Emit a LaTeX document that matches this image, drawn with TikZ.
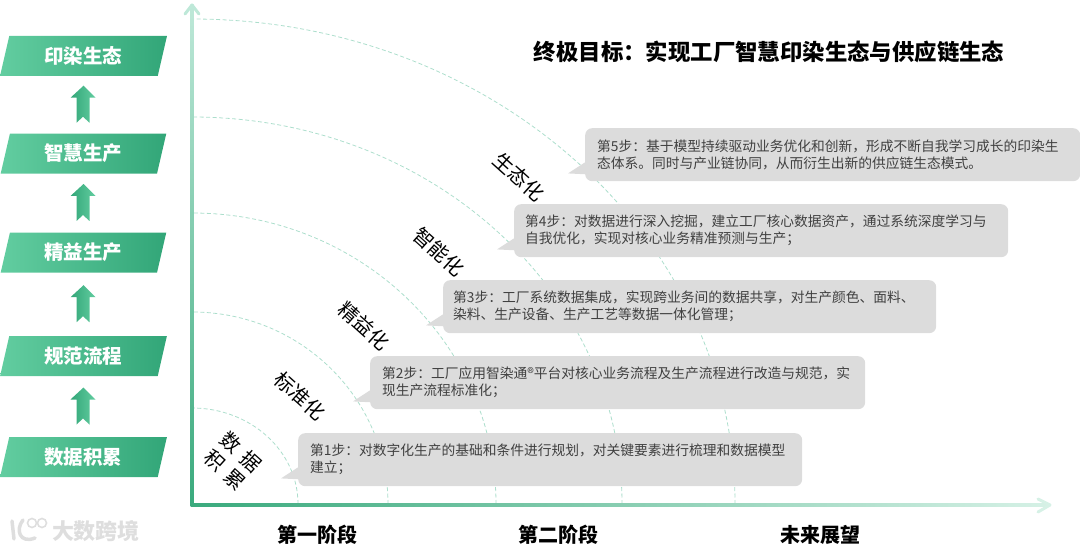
\documentclass[tikz,border=0pt]{standalone}
\usepackage{fontspec}
\setmainfont{Noto Sans CJK SC}
\usepackage{xcolor}
\usetikzlibrary{calc,shapes.geometric}
\definecolor{accent}{RGB}{58,170,125}
\definecolor{accentdark}{RGB}{50,166,120}
\definecolor{accentlight}{RGB}{98,205,160}
\definecolor{fadeup}{RGB}{190,232,216}
\definecolor{faderight}{RGB}{214,241,230}
\definecolor{ringcol}{RGB}{172,222,204}
\definecolor{bubblecol}{RGB}{220,220,220}
\definecolor{marktext}{RGB}{222,222,222}
\tikzset{
  ribbon/.style={trapezium,trapezium left angle=75.5,trapezium right angle=104.5,trapezium stretches=true,
    minimum width=167,minimum height=40,inner sep=0pt,left color=accentlight,right color=accentdark,
    text=white,font=\fontsize{19.5}{21}\selectfont\bfseries},
  bubble/.style={rectangle,rounded corners=7,fill=bubblecol,minimum height=53,inner sep=0pt,anchor=north west,
    align=left,text=black!75,font=\fontsize{13.75}{17}\selectfont},
  bubbletail/.style={fill=bubblecol},
  ring/.style={ringcol,line width=0.8,dashed,dash pattern=on 4 off 2.5},
  stagelabel/.style={rotate=-42,font=\fontsize{20}{24}\selectfont},
  phaselabel/.style={font=\fontsize{20}{22}\selectfont\bfseries},
  axishead/.style={line width=3,line cap=round,line join=round},
}
\newcommand{\fatarrow}[2]{%
  \path let \p1=($(#1.north)!.5!(#2.south)$) in coordinate (m) at (83.5,\y1);
  \shade[left color=accentdark,right color=accentlight]
    ($(m)+(0,-19)$)--++(12,12)--++(-6,0)--++(0,25)--++(-6.5,-6)--++(-6.5,6)--++(0,-25)--++(-6,0)--cycle;
}
\begin{document}
\begin{tikzpicture}[x=1pt,y=-1pt]
\useasboundingbox (0,0) rectangle (1080,551);
% rings
\coordinate (origin) at (192,504);
\foreach \rx/\ry in {106/96,196/192,304/291,430/387,543/485}{
  \draw[ring] (192+\rx,504) arc[start angle=0,end angle=-90,x radius=\rx,y radius=\ry];
}
% axes
\shade[bottom color=accent,top color=fadeup] (190.5,5) rectangle (193.5,505.5);
\shade[left color=accent,right color=faderight] (190.5,503.5) rectangle (1050,506.5);
\draw[axishead,fadeup] (185,14)--(192,5)--(199,14);
\draw[axishead,faderight] (1038,499)--(1050,505)--(1038,512);
% ribbons
\foreach \name/\ypos/\lab in {ribbonE/56/印染生态,ribbonD/153.5/智慧生产,ribbonC/252.5/精益生产,ribbonB/356/规范流程,ribbonA/457/数据积累}{
  \node[ribbon] (\name) at (83.5,\ypos) {\lab};
}
\foreach \a/\b in {ribbonA/ribbonB,ribbonB/ribbonC,ribbonC/ribbonD,ribbonD/ribbonE}{
  \fatarrow{\a}{\b}
}
% bubbles
\node[bubble,minimum width=495,text width=471] (stepE) at (585,128) {第5步：基于模型持续驱动业务优化和创新，形成不断自我学习成长的印染生\\态体系。同时与产业链协同，从而衍生出新的供应链生态模式。};
\node[bubble,minimum width=494,text width=472] (stepD) at (514,204) {第4步：对数据进行深入挖掘，建立工厂核心数据资产，通过系统深度学习与\\自我优化，实现对核心业务精准预测与生产；};
\node[bubble,minimum width=493,text width=473] (stepC) at (443,280) {第3步：工厂系统数据集成，实现跨业务间的数据共享，对生产颜色、面料、\\染料、生产设备、生产工艺等数据一体化管理；};
\node[bubble,minimum width=495,text width=471] (stepB) at (370,356) {第2步：工厂应用智染通®平台对核心业务流程及生产流程进行改造与规范，实\\现生产流程标准化；};
\node[bubble,minimum width=504,text width=480] (stepA) at (298,433) {第1步：对数字化生产的基础和条件进行规划，对关键要素进行梳理和数据模型\\建立；};
\foreach \s in {stepA,stepB,stepC,stepD,stepE}{
  \fill[bubbletail] ($(\s.south west)+(-17,-8)$)--($(\s.south west)+(3,-21)$)--($(\s.south west)+(3,-7)$)--cycle;
}
% stage labels
\node[stagelabel] (eco) at (519,177) {生态化};
\node[stagelabel] (smart) at (439,252) {智能化};
\node[stagelabel] (lean) at (364,326) {精益化};
\node[stagelabel] (norm) at (300,396) {标准化};
\node[stagelabel,align=center] (accum) at (233,461) {数\hspace{8pt}据\\积\hspace{8pt}累};
% title and phases
\node[font=\fontsize{22.4}{24}\selectfont\bfseries] (goal) at (769,52) {终极目标：实现工厂智慧印染生态与供应链生态};
\node[phaselabel] (phaseA) at (317,535) {第一阶段};
\node[phaselabel] (phaseB) at (558,535) {第二阶段};
\node[phaselabel] (phaseC) at (820,535) {未来展望};
% watermark
\node[text=marktext,font=\fontsize{22}{24}\selectfont\bfseries] (mark) at (96,531) {大数跨境};
\draw[marktext,line width=3.5,line cap=round] (12,521)--(14,539);
\draw[marktext,line width=3.5,line cap=round] (23,520) .. controls (15,530) and (20,544) .. (35,538);
\draw[marktext,line width=1.6] (32,523) circle (4.5) (42,523) circle (4.5);
\end{tikzpicture}
\end{document}
